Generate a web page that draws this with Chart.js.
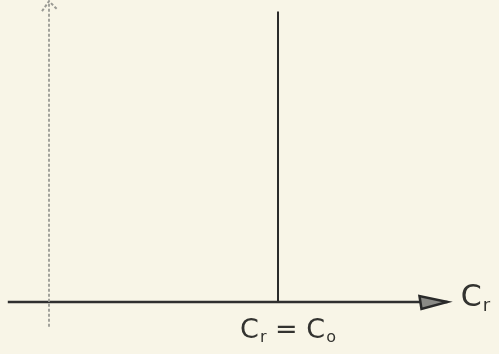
<!DOCTYPE html>
<html>
<head>
<meta charset="utf-8">
<script src="https://cdn.jsdelivr.net/npm/chart.js@4"></script>
<style>
  html, body { margin: 0; padding: 0; background: #f8f5e7; }
  #wrap { width: 499px; height: 354px; }
</style>
</head>
<body>
<div id="wrap"><canvas id="sketch"></canvas></div>
<script>
// Cr axis (horizontal) and the vertical axis, in data units
var xAxisX = [-0.18, 1.74];
var xAxisY = [0, 0];
var yAxisX = [0, 0];
var yAxisY = [-0.085, 1.03];

// vertical line where Cr = Co
var coX = [1, 1];
var coY = [0, 0.995];

// text: main letter + subscript
var axisLabel = ['C', 'r'];
var coLabel = [['C', 'r'], ' = ', ['C', 'o']];

function pts(xs, ys) {
  return xs.map(function (x, i) { return { x: x, y: ys[i] }; });
}

function drawSub(c, parts, x, y, size) {
  // parts: array of strings or [main, sub]
  var big = size + 'px "DejaVu Sans"', small = Math.round(size * 0.6) + 'px "DejaVu Sans"';
  var w = 0;
  parts.forEach(function (p) {
    if (typeof p === 'string') { c.font = big; w += c.measureText(p).width; }
    else {
      c.font = big; w += c.measureText(p[0]).width;
      c.font = small; w += c.measureText(p[1]).width + 1;
    }
  });
  var cx = x - w / 2;
  parts.forEach(function (p) {
    if (typeof p === 'string') {
      c.font = big;
      c.fillText(p, cx, y); cx += c.measureText(p).width;
    } else {
      c.font = big;
      c.fillText(p[0], cx, y); cx += c.measureText(p[0]).width;
      c.font = small;
      c.fillText(p[1], cx + 1, y + size * 0.15); cx += c.measureText(p[1]).width + 1;
    }
  });
}

var paper = {
  id: 'paper',
  beforeDraw: function (chart) {
    var c = chart.ctx;
    c.save();
    c.fillStyle = '#f8f5e7';
    c.fillRect(0, 0, chart.width, chart.height);
    c.restore();
  },
  afterDatasetsDraw: function (chart) {
    var c = chart.ctx, sx = chart.scales.x, sy = chart.scales.y;
    c.save();

    // arrow on the Cr axis
    var tx = sx.getPixelForValue(xAxisX[1]), ty = sy.getPixelForValue(0);
    c.beginPath();
    c.moveTo(tx, ty);
    c.lineTo(tx - 28, ty - 6);
    c.lineTo(tx - 26, ty + 7);
    c.closePath();
    c.fillStyle = '#8a8a86';
    c.fill();
    c.lineWidth = 2.5;
    c.strokeStyle = '#2a2a2a';
    c.stroke();

    // arrow on the vertical axis
    var ax = sx.getPixelForValue(0), ay = sy.getPixelForValue(yAxisY[1]);
    c.beginPath();
    c.moveTo(ax - 7, ay + 10);
    c.lineTo(ax, ay);
    c.lineTo(ax + 8, ay + 8);
    c.lineWidth = 2;
    c.strokeStyle = '#9a9a94';
    c.setLineDash([3, 2]);
    c.stroke();
    c.setLineDash([]);

    // labels
    c.fillStyle = '#333330';
    c.textBaseline = 'alphabetic';
    drawSub(c, [axisLabel], tx + 28, ty + 4, 30);
    drawSub(c, coLabel, sx.getPixelForValue(coX[0]) + 10, ty + 36, 27);
    c.restore();
  }
};

new Chart(document.getElementById('sketch'), {
  type: 'scatter',
  data: {
    datasets: [
      {
        data: pts(yAxisX, yAxisY),
        showLine: true,
        borderColor: '#a3a39c',
        borderWidth: 2,
        borderDash: [3, 2],
        pointRadius: 0
      },
      {
        data: pts(xAxisX, xAxisY),
        showLine: true,
        borderColor: '#2f2f2f',
        borderWidth: 2.5,
        pointRadius: 0
      },
      {
        data: pts(coX, coY),
        showLine: true,
        borderColor: '#2a2a2a',
        borderWidth: 2,
        pointRadius: 0
      }
    ]
  },
  options: {
    responsive: true,
    maintainAspectRatio: false,
    animation: false,
    layout: { padding: 0 },
    plugins: { legend: { display: false }, tooltip: { enabled: false } },
    scales: {
      x: { type: 'linear', min: -0.214, max: 1.965, display: false },
      y: { type: 'linear', min: -0.178, max: 1.034, display: false }
    }
  },
  plugins: [paper]
});
</script>
</body>
</html>
